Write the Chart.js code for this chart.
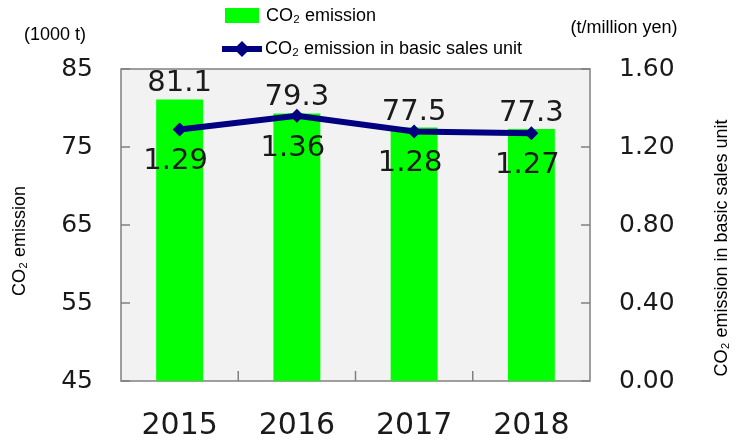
<!DOCTYPE html>
<html>
<head>
<meta charset="utf-8">
<script src="https://cdn.jsdelivr.net/npm/chart.js@4/dist/chart.umd.min.js"></script>
<style>
  html, body { margin: 0; padding: 0; background: #fff; }
  #wrap { width: 742px; height: 443px; position: relative; }
</style>
</head>
<body>
<div id="wrap"><canvas id="myChart" width="742" height="443"></canvas></div>
<script>
const years = ['2015', '2016', '2017', '2018'];
const emission = [81.1, 79.3, 77.5, 77.3];
const perSales = [1.29, 1.36, 1.28, 1.27];
const leftTicks = [45, 55, 65, 75, 85];
const rightTicks = [0, 0.4, 0.8, 1.2, 1.6];

const numFont = '"DejaVu Sans", Verdana, sans-serif';
const txtFont = '"Liberation Sans", Arial, sans-serif';
const navy = '#000080';
const green = '#00ff00';
const axisGray = '#808080';

// plot background, inward tick marks, frame
const framePlugin = {
  id: 'frame',
  beforeDatasetsDraw(chart) {
    const {ctx, chartArea: a} = chart;
    ctx.save();
    ctx.fillStyle = '#f2f2f2';
    ctx.fillRect(a.left, a.top, a.right - a.left, a.bottom - a.top);
    ctx.strokeStyle = axisGray;
    ctx.lineWidth = 1.5;
    ctx.strokeRect(a.left, a.top, a.right - a.left, a.bottom - a.top);
    ctx.beginPath();
    const y = chart.scales.y, y1 = chart.scales.y1, x = chart.scales.x;
    leftTicks.forEach(v => {
      const py = y.getPixelForValue(v);
      ctx.moveTo(a.left, py); ctx.lineTo(a.left + 9, py);
    });
    rightTicks.forEach(v => {
      const py = y1.getPixelForValue(v);
      ctx.moveTo(a.right, py); ctx.lineTo(a.right - 9, py);
    });
    for (let i = 1; i < years.length; i++) {
      const px = (x.getPixelForValue(i - 1) + x.getPixelForValue(i)) / 2;
      ctx.moveTo(px, a.bottom); ctx.lineTo(px, a.bottom - 10);
    }
    ctx.stroke();
    ctx.restore();
  },
  afterDraw(chart) {
    const {ctx} = chart;
    ctx.save();
    // value labels
    ctx.fillStyle = '#1a1a1a';
    ctx.font = '29px ' + numFont;
    ctx.textAlign = 'center';
    ctx.textBaseline = 'alphabetic';
    chart.getDatasetMeta(0).data.forEach((bar, i) => {
      ctx.fillText(emission[i].toFixed(1), bar.x, bar.y - 8);
    });
    chart.getDatasetMeta(1).data.forEach((pt, i) => {
      ctx.fillText(perSales[i].toFixed(2), pt.x - 4, pt.y + 40);
    });

    // axis unit texts + titles
    ctx.fillStyle = '#000';
    ctx.font = '18px ' + txtFont;
    ctx.textBaseline = 'middle';
    ctx.fillText('(1000 t)', 55, 35);
    ctx.fillText('(t/million yen)', 624, 28);

    ctx.save();
    ctx.translate(20, 241);
    ctx.rotate(-Math.PI / 2);
    ctx.fillText('CO\u2082 emission', 0, 0);
    ctx.restore();
    ctx.save();
    ctx.translate(722, 248);
    ctx.rotate(-Math.PI / 2);
    ctx.fillText('CO\u2082 emission in basic sales unit', 0, 0);
    ctx.restore();

    // legend
    ctx.textAlign = 'left';
    ctx.fillStyle = green;
    ctx.fillRect(225, 8, 34, 15);
    ctx.fillStyle = '#000';
    ctx.fillText('CO\u2082 emission', 266, 16);

    ctx.strokeStyle = navy;
    ctx.lineWidth = 6;
    ctx.beginPath();
    ctx.moveTo(222, 49); ctx.lineTo(262, 49);
    ctx.stroke();
    ctx.fillStyle = navy;
    ctx.beginPath();
    ctx.moveTo(242, 41); ctx.lineTo(250, 49); ctx.lineTo(242, 57); ctx.lineTo(234, 49);
    ctx.closePath();
    ctx.fill();
    ctx.fillStyle = '#000';
    ctx.fillText('CO\u2082 emission in basic sales unit', 265, 49);
    ctx.restore();
  }
};

new Chart(document.getElementById('myChart').getContext('2d'), {
  data: {
    labels: years,
    datasets: [
      {
        type: 'bar',
        label: 'CO\u2082 emission',
        data: emission,
        yAxisID: 'y',
        backgroundColor: green,
        borderWidth: 0,
        categoryPercentage: 1,
        barPercentage: 0.4,
        order: 2
      },
      {
        type: 'line',
        label: 'CO\u2082 emission in basic sales unit',
        data: perSales,
        yAxisID: 'y1',
        borderColor: navy,
        backgroundColor: navy,
        borderWidth: 6,
        pointStyle: 'rectRot',
        pointRadius: 7,
        pointBorderWidth: 0,
        tension: 0,
        order: 1
      }
    ]
  },
  options: {
    responsive: false,
    animation: false,
    layout: { padding: { top: 69, left: 0, right: 0, bottom: 0 } },
    plugins: { legend: { display: false }, tooltip: { enabled: false } },
    scales: {
      x: {
        grid: { display: false, drawTicks: false },
        border: { display: false },
        ticks: { font: { family: numFont, size: 30 }, color: '#1a1a1a', padding: 27, maxRotation: 0 },
        afterFit: s => { s.height = 62; }
      },
      y: {
        position: 'left',
        min: 45, max: 85,
        afterBuildTicks: s => { s.ticks = leftTicks.map(v => ({value: v})); },
        grid: { display: false, drawTicks: false },
        border: { display: false },
        ticks: { font: { family: numFont, size: 25 }, color: '#1a1a1a', padding: 28 },
        afterFit: s => { s.width = 121; }
      },
      y1: {
        position: 'right',
        min: 0, max: 1.6,
        afterBuildTicks: s => { s.ticks = rightTicks.map(v => ({value: v})); },
        grid: { display: false, drawTicks: false },
        border: { display: false },
        ticks: { font: { family: numFont, size: 25 }, color: '#1a1a1a', padding: 29, callback: v => Number(v).toFixed(2) },
        afterFit: s => { s.width = 152; }
      }
    }
  },
  plugins: [framePlugin]
});
</script>
</body>
</html>
